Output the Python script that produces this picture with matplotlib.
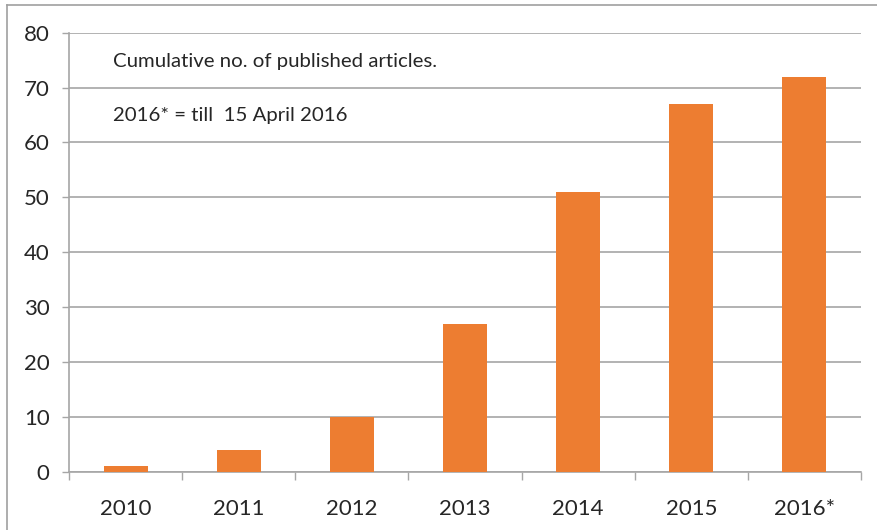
import matplotlib
matplotlib.use("Agg")
import matplotlib.pyplot as plt
from matplotlib.lines import Line2D

# Données
years = ["2010", "2011", "2012", "2013", "2014", "2015", "2016*"]
articles = [1, 4, 10, 27, 51, 67, 72]
y_ticks = [0, 10, 20, 30, 40, 50, 60, 70, 80]

plt.rcParams['font.family'] = ['Lato', 'DejaVu Sans']

W, H = 877, 530
fig = plt.figure(figsize=(W / 100, H / 100), dpi=100)
fig.patch.set_facecolor("white")

# Zone du graphique (pixels -> fraction)
left, right, top, bottom = 69, 861, 32.7, 471.7
ax = fig.add_axes([left / W, 1 - bottom / H, (right - left) / W, (bottom - top) / H])

x = range(len(years))
ax.bar(x, articles, width=0.39, color="#ED7D31", zorder=3)

ax.set_xlim(-0.5, len(years) - 0.5)
ax.set_ylim(0, 80)
ax.set_yticks(y_ticks)
ax.set_yticklabels([str(v) for v in y_ticks], fontsize=16, color="#262626")
ax.yaxis.grid(True, color="#A6A6A6", linewidth=1.2, zorder=0)
ax.set_axisbelow(True)

# Libellés en x au centre, graduations entre les catégories
ax.set_xticks(list(x))
ax.set_xticklabels(years, fontsize=16, color="#262626")
ax.tick_params(axis="x", which="major", length=0, pad=20)
ax.set_xticks([i - 0.5 for i in range(len(years) + 1)], minor=True)
ax.tick_params(axis="x", which="minor", length=6, width=1, color="#A6A6A6", direction="out")
ax.tick_params(axis="y", length=5, width=1, color="#A6A6A6", direction="out", pad=9)

for side in ["top", "right"]:
    ax.spines[side].set_visible(False)
for side in ["left", "bottom"]:
    ax.spines[side].set_color("#A6A6A6")
    ax.spines[side].set_linewidth(1.2)

# Texte d'annotation
fig.text(113 / W, 1 - 62 / H, "Cumulative no. of published articles.",
         fontsize=14.7, color="#262626", va="center", ha="left")
fig.text(113 / W, 1 - 116 / H, "2016* = till  15 April 2016",
         fontsize=14.7, color="#262626", va="center", ha="left")

# Cadre (bord gauche et haut visibles)
fig.add_artist(Line2D([7 / W, 7 / W], [0, 1 - 5 / H], transform=fig.transFigure,
                      color="#A0A0A0", linewidth=1.2))
fig.add_artist(Line2D([7 / W, 1], [1 - 5 / H, 1 - 5 / H], transform=fig.transFigure,
                      color="#A0A0A0", linewidth=1.2))

fig.savefig("out.png", dpi=100)
